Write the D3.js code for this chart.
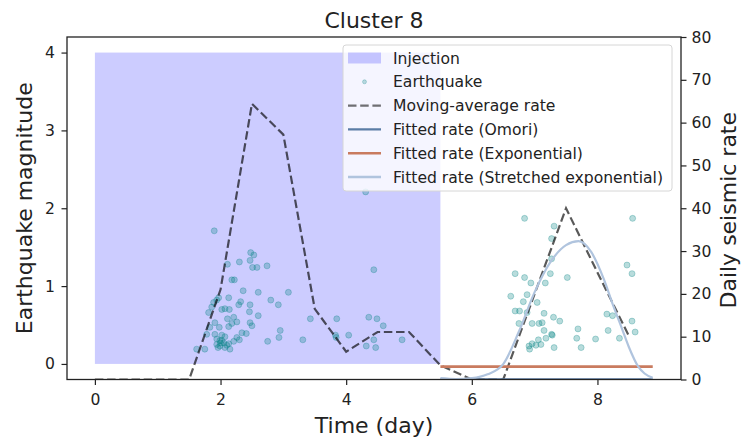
<!DOCTYPE html>
<html lang="en">
<head>
<meta charset="UTF-8">
<title>Cluster 8</title>
<script src="https://d3js.org/d3.v7.min.js"></script>
<style>
    body {margin: 0; background: #fff;}
    text {font-family: "DejaVu Sans", sans-serif; fill: #222;}
</style>
</head>
<body>
<script>
    const width = 742;
    const height = 438;

    // ---- data ----
    const dayTicks = [0, 2, 4, 6, 8];
    const magTicks = [0, 1, 2, 3, 4];
    const rateTicks = [0, 10, 20, 30, 40, 50, 60, 70, 80];

    const injection = [0, 5.5];          // days, drawn from magnitude 0 to 4
    const injectionMag = [0, 4];

    const quakeTime = [
        1.90, 2.48, 2.53, 2.30, 2.47, 2.51, 2.58, 2.74, 2.11, 2.18, 2.22, 2.36, 2.60, 3.08,
        2.13, 1.97, 1.94, 2.32, 2.29, 2.47, 2.80, 2.92, 1.89, 1.86, 2.02, 2.07, 2.14, 1.81,
        2.46, 2.60, 3.43, 2.11, 2.21, 1.91, 2.18, 2.26, 2.47, 2.50, 2.13, 1.98, 2.95, 2.34,
        2.41, 1.91, 2.02, 2.07, 2.26, 2.93, 1.94, 1.99, 2.05, 2.13, 2.21, 2.30, 2.75, 3.31,
        1.94, 1.99, 2.07, 1.75, 1.62, 2.15, 1.96, 1.83, 1.78, 2.02, 2.10, 2.00,
        4.31, 4.44, 3.85, 4.36, 4.49, 4.59, 3.83, 3.84, 4.04, 4.44, 4.89, 4.32, 4.47,
        6.84, 8.56, 7.31, 7.27, 7.27, 8.47, 8.55, 6.69, 6.84, 7.25, 7.52, 6.94, 7.17, 6.88,
        6.62, 6.82, 7.04, 6.69, 6.76, 6.88, 7.15, 6.75, 6.96, 7.07, 7.12, 7.30, 7.40, 8.15,
        8.24, 8.55, 8.60, 8.17, 7.69, 7.15, 7.27, 7.28, 7.18, 7.67, 7.97, 8.35, 7.06, 6.96,
        6.91, 7.02, 7.10, 6.92, 7.31, 7.74
    ];
    const quakeMag = [
        1.71, 1.43, 1.40, 1.31, 1.33, 1.24, 1.24, 1.26, 1.28, 1.08, 1.08, 0.94, 0.92, 0.92,
        0.85, 0.85, 0.82, 0.80, 0.76, 0.76, 0.82, 0.76, 0.79, 0.73, 0.70, 0.71, 0.70, 0.66,
        0.67, 0.62, 0.58, 0.58, 0.60, 0.53, 0.52, 0.54, 0.53, 0.49, 0.48, 0.47, 0.43, 0.40,
        0.39, 0.38, 0.37, 0.35, 0.34, 0.34, 0.32, 0.30, 0.27, 0.26, 0.29, 0.31, 0.29, 0.31,
        0.25, 0.23, 0.21, 0.19, 0.19, 0.19, 0.21, 0.47, 0.38, 0.30, 0.24, 0.27,
        2.21, 1.21, 0.58, 0.60, 0.58, 0.49, 0.37, 0.34, 0.37, 0.31, 0.31, 0.23, 0.21,
        1.87, 1.87, 1.77, 1.61, 1.35, 1.27, 1.16, 1.16, 1.11, 1.16, 1.11, 1.04, 1.04, 0.89,
        0.87, 0.80, 0.79, 0.68, 0.68, 0.66, 0.65, 0.52, 0.52, 0.52, 0.53, 0.60, 0.55, 0.64,
        0.62, 0.55, 0.41, 0.43, 0.45, 0.43, 0.38, 0.37, 0.33, 0.33, 0.32, 0.33, 0.31, 0.26,
        0.23, 0.24, 0.25, 0.19, 0.21, 0.21
    ];

    const maTime = [0, 0.5, 1, 1.5, 2, 2.5, 3, 3.5, 4, 4.5, 5, 5.5, 6, 6.5, 7, 7.5, 8, 8.5];
    const maRate = [0, 0, 0, 0, 21, 64.4, 57.2, 16.5, 6.5, 11.1, 11.1, 3.3, 0, 0, 20, 40, 25, 10.2];

    const omoriTime = [5.5, 8.88];
    const omoriRate = [0, 0];

    const expTime = [5.5, 8.88];
    const expRate = [3.0, 3.0];

    const stretchTime = [5.5, 5.75, 6.0, 6.25, 6.5, 6.75, 7.0, 7.25, 7.5, 7.7, 7.9, 8.1, 8.25, 8.4, 8.5, 8.65, 8.75, 8.88];
    const stretchRate = [0.3, 0.1, 0.3, 1.2, 3.6, 11.2, 20.4, 27.4, 31.4, 32.3, 29.8, 23.5, 17.3, 11.5, 7.6, 3.0, 1.4, 0.4];

    const legendLabels = ["Injection", "Earthquake", "Moving-average rate", "Fitted rate (Omori)",
        "Fitted rate (Exponential)", "Fitted rate (Stretched exponential)"];

    // ---- layout ----
    const plot = {left: 67, right: 681, top: 37, bottom: 379.5};
    const tickFont = "15.6px";
    const labelFont = "22px";

    const colors = {
        injection: "#0000ff",
        quake: "#008080",
        ma: "#000000",
        omori: "#5b7da6",
        exp: "#c97b5f",
        stretch: "#b0c4de"
    };

    const x = d3.scaleLinear().domain([-0.444, 9.33]).range([plot.left, plot.right]);
    const yMag = d3.scaleLinear().domain([-0.2, 4.2]).range([plot.bottom, plot.top]);
    const yRate = d3.scaleLinear().domain([0, 80]).range([plot.bottom, plot.top]);

    const svg = d3.select("body").append("svg")
            .attr("width", width).attr("height", height);

    svg.append("defs").append("clipPath").attr("id", "plot-clip")
            .append("rect")
            .attr("x", plot.left).attr("y", plot.top)
            .attr("width", plot.right - plot.left).attr("height", plot.bottom - plot.top);

    drawInjection();
    drawQuakes();
    drawRates();
    drawAxes();
    drawLegend();

    function drawInjection() {
        svg.append("rect")
                .attr("x", x(injection[0]))
                .attr("y", yMag(injectionMag[1]))
                .attr("width", x(injection[1]) - x(injection[0]))
                .attr("height", yMag(injectionMag[0]) - yMag(injectionMag[1]))
                .style("fill", colors.injection)
                .style("fill-opacity", 0.2);
    }

    function drawQuakes() {
        svg.append("g").attr("class", "quakes")
                .selectAll("circle")
                .data(d3.zip(quakeTime, quakeMag))
                .enter()
                .append("circle")
                .attr("cx", d => x(d[0]))
                .attr("cy", d => yMag(d[1]))
                .attr("r", 3)
                .style("fill", colors.quake)
                .style("fill-opacity", 0.28)
                .style("stroke", colors.quake)
                .style("stroke-opacity", 0.28)
                .style("stroke-width", 1);
    }

    function drawRates() {
        const line = d3.line().x(d => x(d[0])).y(d => yRate(d[1]));
        const g = svg.append("g").attr("clip-path", "url(#plot-clip)");

        g.append("path")
                .datum(d3.zip(maTime, maRate))
                .attr("d", line)
                .style("fill", "none")
                .style("stroke", colors.ma)
                .style("stroke-opacity", 0.65)
                .style("stroke-width", 2.2)
                .style("stroke-dasharray", "8.5,3.7");

        g.append("path")
                .datum(d3.zip(omoriTime, omoriRate))
                .attr("d", line)
                .style("fill", "none")
                .style("stroke", colors.omori)
                .style("stroke-width", 2.4);

        g.append("path")
                .datum(d3.zip(expTime, expRate))
                .attr("d", line)
                .style("fill", "none")
                .style("stroke", colors.exp)
                .style("stroke-width", 2.6);

        g.append("path")
                .datum(d3.zip(stretchTime, stretchRate))
                .attr("d", line.curve(d3.curveMonotoneX))
                .style("fill", "none")
                .style("stroke", colors.stretch)
                .style("stroke-width", 2.2);
    }

    function styleAxis(g) {
        g.select(".domain").remove();
        g.selectAll(".tick line").style("stroke", "#222").style("stroke-width", 1.2);
        g.selectAll(".tick text")
                .style("font-size", tickFont)
                .style("font-family", "DejaVu Sans, sans-serif")
                .style("fill", "#222");
    }

    function drawAxes() {
        const fmt = d3.format("d");
        svg.append("g")
                .attr("transform", `translate(0,${plot.bottom})`)
                .call(d3.axisBottom(x).tickValues(dayTicks).tickFormat(fmt).tickSize(5.5).tickPadding(9))
                .call(styleAxis);

        svg.append("g")
                .attr("transform", `translate(${plot.left},0)`)
                .call(d3.axisLeft(yMag).tickValues(magTicks).tickFormat(fmt).tickSize(5.5).tickPadding(6.5))
                .call(styleAxis);

        svg.append("g")
                .attr("transform", `translate(${plot.right},0)`)
                .call(d3.axisRight(yRate).tickValues(rateTicks).tickFormat(fmt).tickSize(5.5).tickPadding(5))
                .call(styleAxis);

        svg.append("rect")
                .attr("x", plot.left).attr("y", plot.top)
                .attr("width", plot.right - plot.left).attr("height", plot.bottom - plot.top)
                .style("fill", "none")
                .style("stroke", "#222")
                .style("stroke-width", 1.3);

        svg.append("text")
                .attr("x", (plot.left + plot.right) / 2).attr("y", 28)
                .attr("text-anchor", "middle")
                .style("font-size", labelFont)
                .text("Cluster 8");

        svg.append("text")
                .attr("x", (plot.left + plot.right) / 2).attr("y", 433)
                .attr("text-anchor", "middle")
                .style("font-size", labelFont)
                .text("Time (day)");

        svg.append("text")
                .attr("transform", `translate(31.5,${(plot.top + plot.bottom) / 2}) rotate(-90)`)
                .attr("text-anchor", "middle")
                .style("font-size", labelFont)
                .text("Earthquake magnitude");

        svg.append("text")
                .attr("transform", `translate(736,${(plot.top + plot.bottom) / 2 + 2}) rotate(-90)`)
                .attr("text-anchor", "middle")
                .style("font-size", labelFont)
                .text("Daily seismic rate");
    }

    function drawLegend() {
        const lg = svg.append("g").attr("class", "legend");
        lg.append("rect")
                .attr("x", 343).attr("y", 45)
                .attr("width", 329).attr("height", 146)
                .attr("rx", 3)
                .style("fill", "#fff")
                .style("fill-opacity", 0.8)
                .style("stroke", "#d6d6d6")
                .style("stroke-width", 1);

        const rowY = i => 58 + i * 23.8;
        const hx0 = 348, hx1 = 381;

        const rows = lg.selectAll("g.row")
                .data(legendLabels)
                .enter()
                .append("g")
                .attr("class", "row")
                .attr("transform", (d, i) => `translate(0,${rowY(i)})`);

        rows.append("text")
                .attr("x", 393).attr("y", 5.6)
                .style("font-size", tickFont)
                .text(d => d);

        rows.each(function (d, i) {
            const r = d3.select(this);
            if (i === 0) {
                r.append("rect")
                        .attr("x", hx0).attr("y", -5.5)
                        .attr("width", hx1 - hx0).attr("height", 11)
                        .style("fill", colors.injection)
                        .style("fill-opacity", 0.2);
            } else if (i === 1) {
                r.append("circle")
                        .attr("cx", (hx0 + hx1) / 2).attr("cy", 0).attr("r", 2)
                        .style("fill", colors.quake).style("fill-opacity", 0.25)
                        .style("stroke", colors.quake).style("stroke-opacity", 0.25);
            } else {
                const styles = [null, null,
                    {c: colors.ma, o: 0.55, dash: "8.5,3.7"},
                    {c: colors.omori, o: 1, dash: null},
                    {c: colors.exp, o: 1, dash: null},
                    {c: colors.stretch, o: 1, dash: null}];
                const s = styles[i];
                r.append("line")
                        .attr("x1", hx0).attr("x2", hx1)
                        .attr("y1", 0).attr("y2", 0)
                        .style("stroke", s.c)
                        .style("stroke-opacity", s.o)
                        .style("stroke-width", 2.4)
                        .style("stroke-dasharray", s.dash);
            }
        });
    }
</script>
</body>
</html>
